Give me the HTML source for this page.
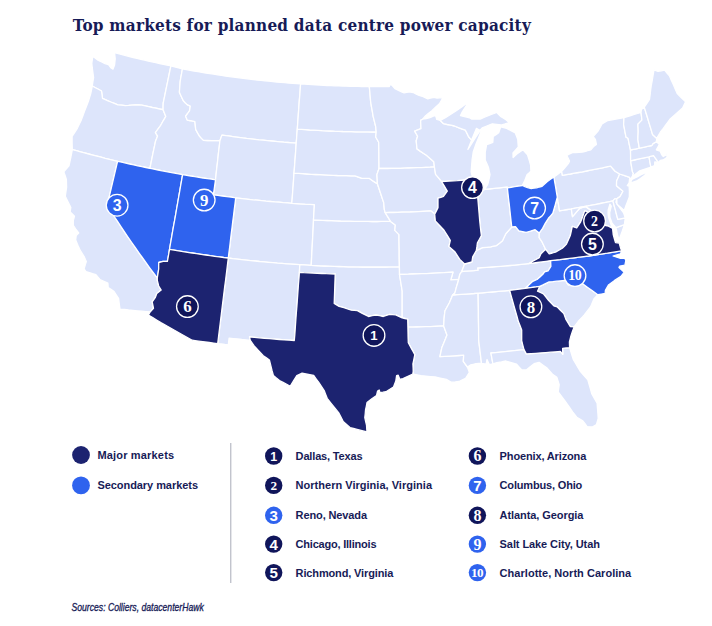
<!DOCTYPE html>
<html lang="en"><head><meta charset="utf-8"><title>Top markets for planned data centre power capacity</title>
<style>
html,body{margin:0;padding:0;background:#fff}
body{width:712px;height:626px;overflow:hidden;position:relative}
svg{position:absolute;left:0;top:0;display:block}
.title{font-family:"DejaVu Serif Condensed","Liberation Serif",serif;font-weight:700;font-size:17px;fill:#171b57}
.map path{stroke:#fff;stroke-width:1.3;stroke-linejoin:round}
.lt{font-family:"Liberation Sans","DejaVu Sans",sans-serif;font-weight:700;font-size:11px;fill:#171b57}
.src{font-family:"Liberation Sans","DejaVu Sans",sans-serif;font-style:italic;font-size:10.3px;fill:#171b57;stroke:#171b57;stroke-width:.3px}
</style></head><body>
<svg width="712" height="626" viewBox="0 0 712 626">
<text x="72.8" y="31.3" class="title" textLength="458" lengthAdjust="spacing">Top markets for planned data centre power capacity</text>
<g class="map">
<path d="M114.6,52.7L118.3,53.7L122.1,54.6L125.8,55.6L129.5,56.5L133.3,57.5L137.0,58.4L140.8,59.3L144.5,60.1L148.3,61.0L152.1,61.9L155.8,62.7L159.6,63.5L163.4,64.3L167.1,65.1L170.9,65.9L169.8,71.2L168.7,76.5L167.6,81.8L166.5,87.2L165.4,92.5L164.3,97.8L163.2,103.2L163.1,106.5L163.1,109.7L159.5,109.0L156.0,108.2L152.4,107.5L148.8,106.7L145.3,105.9L141.7,105.1L138.5,105.0L135.3,104.9L132.0,105.1L128.6,105.4L125.3,105.6L121.6,105.2L117.9,104.9L114.3,103.4L110.8,102.0L108.0,100.8L105.3,99.6L102.5,98.4L102.0,94.7L101.5,91.0L98.4,89.3L95.4,87.7L92.3,86.0L92.7,82.8L93.6,77.6L92.7,71.2L92.2,67.2L91.8,63.3L92.3,59.7L92.9,56.2L95.7,58.4L98.4,60.5L101.7,62.0L105.0,63.6L106.9,64.2L108.8,64.9L110.7,67.7L113.0,69.1L114.6,64.9L115.2,58.9L114.6,52.7Z" fill="#dde5fb"/>
<path d="M92.3,86.0L95.4,87.7L98.4,89.3L101.5,91.0L102.0,94.7L102.5,98.4L105.3,99.6L108.0,100.8L110.8,102.0L114.3,103.4L117.9,104.9L121.6,105.2L125.3,105.6L128.6,105.4L132.0,105.1L135.3,104.9L138.5,105.0L141.7,105.1L145.3,105.9L148.8,106.7L152.4,107.5L156.0,108.2L159.5,109.0L163.1,109.7L165.8,116.4L163.2,120.8L160.7,125.3L158.1,128.9L155.4,132.6L157.6,136.1L155.5,141.3L154.4,146.7L153.2,152.1L152.1,157.6L151.0,163.0L149.9,168.4L145.9,167.5L141.8,166.7L137.8,165.8L133.8,164.9L129.7,164.0L125.7,163.1L121.7,162.2L117.6,161.3L113.5,160.3L109.4,159.3L105.2,158.3L101.1,157.2L97.0,156.2L92.8,155.1L88.7,154.0L84.6,152.9L80.5,151.8L76.4,150.7L72.3,149.6L72.2,146.0L72.1,142.4L72.1,136.3L74.6,132.6L77.0,129.0L79.0,124.8L81.0,120.7L82.9,115.8L84.7,110.8L86.6,105.9L88.5,101.0L89.6,97.4L90.7,93.9L91.5,89.9L92.3,86.0Z" fill="#dde5fb"/>
<path d="M72.3,149.6L76.4,150.7L80.5,151.8L84.6,152.9L88.7,154.0L92.8,155.1L97.0,156.2L101.1,157.2L105.2,158.3L109.4,159.3L113.5,160.3L117.6,161.3L116.3,166.8L115.0,172.3L113.7,177.8L112.4,183.4L111.1,188.9L109.8,194.4L108.5,200.0L107.2,205.5L110.6,210.8L113.9,216.0L117.4,221.2L120.8,226.4L124.3,231.6L127.8,236.8L131.4,242.0L135.0,247.2L138.6,252.4L142.3,257.5L146.0,262.7L149.7,267.8L153.5,272.9L157.3,278.0L157.3,280.4L158.7,286.0L161.2,290.0L156.8,293.4L155.2,297.7L152.2,301.8L153.5,308.3L150.1,312.0L145.8,311.6L141.5,311.2L137.2,310.8L132.9,310.4L128.6,310.0L124.3,309.5L120.0,309.1L119.3,304.0L118.6,298.4L116.2,294.8L113.8,291.2L111.0,289.4L108.2,287.6L107.9,283.2L103.9,281.4L99.9,279.5L95.9,274.7L92.6,273.7L89.3,272.6L86.0,271.6L84.1,268.8L85.2,265.1L86.3,261.5L84.0,256.3L80.4,250.7L78.0,245.4L75.7,240.0L76.2,235.5L78.7,233.0L76.4,230.0L73.3,225.3L73.3,220.6L74.5,216.2L72.3,214.0L70.2,211.9L70.8,207.3L68.0,201.9L65.3,196.4L65.9,191.8L66.6,187.3L66.5,183.3L66.4,179.4L65.1,175.5L63.8,171.7L66.4,168.8L69.0,165.9L69.9,161.5L70.9,157.0L71.6,153.3L72.3,149.6Z" fill="#dde5fb"/>
<path d="M170.9,65.9L174.7,66.9L178.6,67.9L182.4,68.9L181.7,73.0L180.9,77.2L180.2,81.3L179.8,86.7L179.4,92.2L181.3,96.4L183.3,100.7L185.2,102.7L187.2,104.6L190.3,106.1L189.5,110.8L187.6,113.5L185.6,116.2L187.2,120.1L189.5,120.5L191.8,120.8L194.9,121.6L195.3,125.5L195.7,129.4L197.6,132.9L199.6,136.3L201.5,138.4L203.5,140.4L207.6,140.5L211.7,140.6L215.8,140.6L219.9,140.7L219.3,146.3L218.6,151.8L218.0,157.4L217.4,163.0L216.7,168.6L216.1,174.2L215.5,179.8L211.4,179.2L207.3,178.6L203.1,178.0L199.0,177.3L194.9,176.6L190.8,176.0L186.7,175.3L182.6,174.6L178.5,173.9L174.4,173.1L170.3,172.4L166.2,171.6L162.2,170.8L158.1,170.0L154.0,169.2L149.9,168.4L151.0,163.0L152.1,157.6L153.2,152.1L154.4,146.7L155.5,141.3L157.6,136.1L155.4,132.6L158.1,128.9L160.7,125.3L163.2,120.8L165.8,116.4L163.1,109.7L163.1,106.5L163.2,103.2L164.3,97.8L165.4,92.5L166.5,87.2L167.6,81.8L168.7,76.5L169.8,71.2L170.9,65.9Z" fill="#dde5fb"/>
<path d="M182.4,68.9L186.3,69.6L190.2,70.3L194.1,71.0L198.0,71.7L202.0,72.4L205.9,73.0L209.8,73.6L213.7,74.2L217.7,74.8L221.6,75.4L225.5,76.0L229.5,76.6L233.4,77.1L237.3,77.6L241.3,78.1L245.2,78.6L249.2,79.1L253.1,79.5L257.1,80.0L261.0,80.4L265.0,80.8L268.9,81.2L272.9,81.6L276.8,82.0L280.8,82.3L284.7,82.7L288.7,83.0L292.7,83.3L296.6,83.6L300.6,83.9L300.2,89.5L299.8,95.1L299.3,100.8L298.9,106.4L298.5,112.1L298.1,117.8L297.7,123.4L297.3,129.1L296.9,133.8L296.6,138.5L296.2,143.1L292.1,142.8L288.0,142.5L283.8,142.2L279.7,141.8L275.5,141.4L271.4,141.0L267.3,140.6L263.1,140.2L259.0,139.8L254.9,139.3L250.7,138.8L246.6,138.4L242.5,137.9L238.4,137.3L234.3,136.8L230.1,136.2L226.0,135.7L221.9,135.1L219.9,140.7L215.8,140.6L211.7,140.6L207.6,140.5L203.5,140.4L201.5,138.4L199.6,136.3L197.6,132.9L195.7,129.4L195.3,125.5L194.9,121.6L191.8,120.8L189.5,120.5L187.2,120.1L185.6,116.2L187.6,113.5L189.5,110.8L190.3,106.1L187.2,104.6L185.2,102.7L183.3,100.7L181.3,96.4L179.4,92.2L179.8,86.7L180.2,81.3L180.9,77.2L181.7,73.0L182.4,68.9Z" fill="#dde5fb"/>
<path d="M219.9,140.7L221.9,135.1L226.0,135.7L230.1,136.2L234.3,136.8L238.4,137.3L242.5,137.9L246.6,138.4L250.7,138.8L254.9,139.3L259.0,139.8L263.1,140.2L267.3,140.6L271.4,141.0L275.5,141.4L279.7,141.8L283.8,142.2L288.0,142.5L292.1,142.8L296.2,143.1L295.8,149.1L295.4,155.1L294.9,161.1L294.5,167.1L294.0,173.1L293.6,179.1L293.2,185.2L292.7,191.2L292.3,197.2L291.8,203.3L287.5,202.9L283.2,202.6L278.9,202.2L274.5,201.9L270.2,201.5L265.9,201.1L261.6,200.6L257.3,200.2L252.9,199.8L248.6,199.3L244.3,198.8L240.0,198.3L235.7,197.8L231.2,197.2L226.8,196.6L222.3,196.0L217.8,195.4L213.3,194.8L214.1,189.8L214.8,184.8L215.5,179.8L216.1,174.2L216.7,168.6L217.4,163.0L218.0,157.4L218.6,151.8L219.3,146.3L219.9,140.7Z" fill="#dde5fb"/>
<path d="M291.8,203.3L287.5,202.9L283.2,202.6L278.9,202.2L274.5,201.9L270.2,201.5L265.9,201.1L261.6,200.6L257.3,200.2L252.9,199.8L248.6,199.3L244.3,198.8L240.0,198.3L235.7,197.8L235.0,203.8L234.2,209.8L233.5,215.8L232.7,221.8L232.0,227.9L231.2,233.9L230.5,239.9L229.8,246.0L229.0,252.0L228.3,258.0L232.7,258.6L237.2,259.1L241.7,259.6L246.1,260.1L250.6,260.6L255.1,261.0L259.5,261.5L264.0,261.9L268.5,262.3L273.0,262.7L277.4,263.1L281.9,263.4L286.4,263.8L290.9,264.1L295.4,264.4L299.8,264.7L303.6,264.9L307.4,265.1L311.2,265.4L311.5,259.7L311.8,254.0L312.1,248.3L312.4,242.6L312.7,236.9L313.0,231.2L313.3,225.5L313.5,219.8L313.8,214.8L314.1,209.7L314.4,204.7L309.8,204.4L305.3,204.2L300.8,203.9L296.3,203.6L291.8,203.3Z" fill="#dde5fb"/>
<path d="M228.3,258.0L232.7,258.6L237.2,259.1L241.7,259.6L246.1,260.1L250.6,260.6L255.1,261.0L259.5,261.5L264.0,261.9L268.5,262.3L273.0,262.7L277.4,263.1L281.9,263.4L286.4,263.8L290.9,264.1L295.4,264.4L299.8,264.7L299.6,268.5L299.4,272.3L299.0,278.0L298.5,283.7L298.1,289.4L297.7,295.1L297.3,300.7L296.9,306.4L296.4,312.1L296.0,317.8L295.6,323.5L295.2,329.2L294.8,334.9L294.3,340.5L289.3,340.2L284.4,339.9L279.4,339.5L274.4,339.1L269.4,338.7L264.4,338.3L259.4,337.8L254.5,337.4L249.5,336.9L250.3,340.3L246.1,339.9L241.8,339.5L237.6,339.0L233.4,338.6L229.1,338.1L228.7,341.5L228.3,344.9L224.8,344.5L221.3,344.0L217.7,343.6L218.4,337.9L219.1,332.2L219.8,326.5L220.5,320.8L221.2,315.1L221.9,309.4L222.6,303.7L223.3,298.0L224.0,292.3L224.7,286.6L225.5,280.9L226.2,275.2L226.9,269.5L227.6,263.7L228.3,258.0Z" fill="#dde5fb"/>
<path d="M299.8,264.7L303.6,264.9L307.4,265.1L311.2,265.4L315.9,265.6L320.5,265.8L325.1,266.0L329.8,266.2L334.4,266.4L339.1,266.5L343.7,266.6L348.3,266.8L353.0,266.8L357.6,266.9L362.3,267.0L366.9,267.0L371.5,267.0L376.2,267.0L380.8,267.0L385.5,267.0L390.1,266.9L394.7,266.9L399.4,266.8L399.5,270.6L399.5,274.4L400.4,280.0L401.3,285.5L402.2,291.1L402.2,296.4L402.2,301.8L402.2,307.2L402.2,312.5L402.2,317.9L398.9,316.3L395.7,314.8L392.6,314.6L389.5,314.4L386.4,315.4L383.3,316.5L379.6,315.7L375.9,315.0L372.2,315.7L368.5,316.5L365.4,314.9L362.3,313.4L357.4,310.6L354.3,310.4L351.3,310.2L347.6,309.0L343.9,307.7L339.1,306.4L336.6,304.9L334.2,303.5L334.4,297.6L334.6,291.7L334.8,285.8L335.0,279.9L335.2,274.0L330.7,273.8L326.2,273.7L321.8,273.5L317.3,273.3L312.8,273.1L308.3,272.8L303.8,272.6L299.4,272.3L299.6,268.5L299.8,264.7Z" fill="#dde5fb"/>
<path d="M313.5,219.8L318.1,220.1L322.6,220.3L327.1,220.5L331.7,220.7L336.2,220.8L340.7,221.0L345.2,221.1L349.8,221.2L354.3,221.3L358.8,221.4L363.4,221.4L367.9,221.4L372.4,221.5L377.0,221.5L381.5,221.4L386.0,221.4L390.6,221.4L392.9,223.2L395.3,225.1L394.8,230.4L399.0,234.6L399.0,239.9L399.1,245.3L399.2,250.7L399.2,256.0L399.3,261.4L399.4,266.8L394.7,266.9L390.1,266.9L385.5,267.0L380.8,267.0L376.2,267.0L371.5,267.0L366.9,267.0L362.3,267.0L357.6,266.9L353.0,266.8L348.3,266.8L343.7,266.6L339.1,266.5L334.4,266.4L329.8,266.2L325.1,266.0L320.5,265.8L315.9,265.6L311.2,265.4L311.5,259.7L311.8,254.0L312.1,248.3L312.4,242.6L312.7,236.9L313.0,231.2L313.3,225.5L313.5,219.8Z" fill="#dde5fb"/>
<path d="M294.0,173.1L298.4,173.4L302.7,173.7L307.1,174.0L311.4,174.3L315.8,174.5L320.1,174.7L324.5,174.9L328.8,175.1L333.2,175.3L337.5,175.5L341.9,175.6L346.2,175.7L350.6,175.8L354.9,175.9L358.5,177.1L362.0,178.3L365.6,178.3L369.2,178.3L371.9,180.2L374.7,182.1L377.4,183.8L379.4,189.7L381.4,195.7L382.5,199.1L383.7,202.5L384.0,205.9L384.3,209.3L385.2,212.6L387.8,216.8L390.6,221.4L386.0,221.4L381.5,221.4L377.0,221.5L372.4,221.5L367.9,221.4L363.4,221.4L358.8,221.4L354.3,221.3L349.8,221.2L345.2,221.1L340.7,221.0L336.2,220.8L331.7,220.7L327.1,220.5L322.6,220.3L318.1,220.1L313.5,219.8L313.8,214.8L314.1,209.7L314.4,204.7L309.8,204.4L305.3,204.2L300.8,203.9L296.3,203.6L291.8,203.3L292.3,197.2L292.7,191.2L293.2,185.2L293.6,179.1L294.0,173.1Z" fill="#dde5fb"/>
<path d="M297.3,129.1L301.4,129.4L305.6,129.7L309.7,130.0L313.9,130.2L318.0,130.4L322.2,130.7L326.3,130.9L330.5,131.0L334.6,131.2L338.8,131.3L342.9,131.5L347.1,131.6L351.2,131.7L355.4,131.8L359.5,131.9L363.7,131.9L367.8,131.9L372.0,132.0L376.2,132.0L375.7,137.0L378.7,142.3L378.8,147.5L378.9,152.8L378.9,158.0L379.0,163.3L379.0,168.5L376.9,174.6L377.2,179.2L377.4,183.8L374.7,182.1L371.9,180.2L369.2,178.3L365.6,178.3L362.0,178.3L358.5,177.1L354.9,175.9L350.6,175.8L346.2,175.7L341.9,175.6L337.5,175.5L333.2,175.3L328.8,175.1L324.5,174.9L320.1,174.7L315.8,174.5L311.4,174.3L307.1,174.0L302.7,173.7L298.4,173.4L294.0,173.1L294.5,167.1L294.9,161.1L295.4,155.1L295.8,149.1L296.2,143.1L296.6,138.5L296.9,133.8L297.3,129.1Z" fill="#dde5fb"/>
<path d="M300.6,83.9L304.4,84.1L308.2,84.4L312.0,84.6L315.8,84.9L319.7,85.1L323.5,85.3L327.3,85.5L331.1,85.6L334.9,85.8L338.8,85.9L342.6,86.1L346.4,86.2L350.2,86.3L354.0,86.4L357.9,86.4L361.7,86.5L365.5,86.5L369.3,86.6L369.8,91.5L370.2,96.4L370.6,101.3L371.4,106.3L372.3,111.2L373.1,116.2L374.4,121.4L375.7,126.6L376.2,132.0L372.0,132.0L367.8,131.9L363.7,131.9L359.5,131.9L355.4,131.8L351.2,131.7L347.1,131.6L342.9,131.5L338.8,131.3L334.6,131.2L330.5,131.0L326.3,130.9L322.2,130.7L318.0,130.4L313.9,130.2L309.7,130.0L305.6,129.7L301.4,129.4L297.3,129.1L297.7,123.4L298.1,117.8L298.5,112.1L298.9,106.4L299.3,100.8L299.8,95.1L300.2,89.5L300.6,83.9Z" fill="#dde5fb"/>
<path d="M369.3,86.6L373.3,86.6L377.3,86.6L381.3,86.6L385.3,86.5L389.3,86.5L389.8,84.7L391.8,85.0L394.9,88.6L397.0,89.7L399.0,90.7L401.6,91.8L404.1,92.8L406.7,92.4L409.2,91.9L413.3,92.5L415.9,93.9L418.5,95.2L420.6,95.9L422.6,96.5L425.2,97.7L427.8,98.8L430.4,98.1L432.9,97.5L435.0,97.7L437.0,98.0L439.6,97.8L442.1,97.7L443.2,97.4L441.3,100.6L439.4,103.8L435.5,107.3L431.6,110.9L428.6,113.3L425.6,115.7L422.6,119.2L420.6,120.4L420.8,124.5L421.0,128.6L417.8,129.8L414.7,131.1L417.6,136.2L416.2,140.7L416.6,144.8L417.0,148.9L420.1,151.1L423.3,153.2L426.4,155.3L430.1,158.5L433.8,161.7L434.4,166.9L430.2,167.2L425.9,167.4L421.6,167.6L417.4,167.7L413.1,167.9L408.9,168.0L404.6,168.1L400.4,168.3L396.1,168.3L391.8,168.4L387.6,168.5L383.3,168.5L379.0,168.5L379.0,163.3L378.9,158.0L378.9,152.8L378.8,147.5L378.7,142.3L375.7,137.0L376.2,132.0L375.7,126.6L374.4,121.4L373.1,116.2L372.3,111.2L371.4,106.3L370.6,101.3L370.2,96.4L369.8,91.5L369.3,86.6Z" fill="#dde5fb"/>
<path d="M379.0,168.5L383.3,168.5L387.6,168.5L391.8,168.4L396.1,168.3L400.4,168.3L404.6,168.1L408.9,168.0L413.1,167.9L417.4,167.7L421.6,167.6L425.9,167.4L430.2,167.2L434.4,166.9L435.0,170.7L435.6,174.4L438.6,177.9L441.6,181.5L444.5,186.3L447.3,191.1L443.5,196.3L440.8,197.3L438.0,198.2L438.0,202.9L438.0,207.6L436.4,210.9L434.7,214.1L431.0,211.0L426.9,211.2L422.7,211.4L418.5,211.6L414.4,211.8L410.2,212.0L406.1,212.1L401.9,212.2L397.7,212.4L393.6,212.5L389.4,212.5L385.2,212.6L384.3,209.3L384.0,205.9L383.7,202.5L382.5,199.1L381.4,195.7L379.4,189.7L377.4,183.8L377.2,179.2L376.9,174.6L379.0,168.5Z" fill="#dde5fb"/>
<path d="M385.2,212.6L389.4,212.5L393.6,212.5L397.7,212.4L401.9,212.2L406.1,212.1L410.2,212.0L414.4,211.8L418.5,211.6L422.7,211.4L426.9,211.2L431.0,211.0L434.7,214.1L435.0,217.5L435.3,220.9L439.6,225.5L443.9,230.0L447.1,235.2L450.3,240.3L448.9,246.5L451.7,248.9L454.6,251.4L457.2,255.4L459.8,259.4L464.6,264.0L462.9,268.4L461.7,271.5L459.7,274.7L458.8,279.3L454.8,279.6L450.8,279.9L451.9,276.0L453.0,272.1L448.5,272.4L444.1,272.7L439.6,272.9L435.2,273.1L430.7,273.4L426.3,273.6L421.8,273.7L417.4,273.9L412.9,274.0L408.5,274.2L404.0,274.3L399.5,274.4L399.5,270.6L399.4,266.8L399.3,261.4L399.2,256.0L399.2,250.7L399.1,245.3L399.0,239.9L399.0,234.6L394.8,230.4L395.3,225.1L392.9,223.2L390.6,221.4L387.8,216.8L385.2,212.6Z" fill="#dde5fb"/>
<path d="M399.5,274.4L404.0,274.3L408.5,274.2L412.9,274.0L417.4,273.9L421.8,273.7L426.3,273.6L430.7,273.4L435.2,273.1L439.6,272.9L444.1,272.7L448.5,272.4L453.0,272.1L451.9,276.0L450.8,279.9L454.8,279.6L458.8,279.3L457.6,283.2L456.4,287.1L454.9,292.9L452.6,295.0L451.0,298.9L449.4,302.8L447.2,306.8L445.0,310.7L444.5,314.5L444.1,318.4L443.9,322.2L443.7,326.0L439.2,326.2L434.7,326.4L430.3,326.6L425.8,326.7L421.3,326.8L416.8,327.0L412.4,327.1L407.9,327.2L407.8,323.1L407.7,319.1L404.9,318.5L402.2,317.9L402.2,312.5L402.2,307.2L402.2,301.8L402.2,296.4L402.2,291.1L401.3,285.5L400.4,280.0L399.5,274.4Z" fill="#dde5fb"/>
<path d="M407.9,327.2L412.4,327.1L416.8,327.0L421.3,326.8L425.8,326.7L430.3,326.6L434.7,326.4L439.2,326.2L443.7,326.0L445.3,330.5L447.0,335.0L444.5,341.2L441.9,347.4L440.9,352.0L439.9,356.6L444.6,356.4L449.4,356.1L454.2,355.8L459.0,355.5L463.7,355.2L463.3,361.3L467.4,367.0L469.4,372.4L465.6,378.3L462.4,379.9L459.1,381.5L455.2,381.9L451.3,382.2L446.4,379.4L442.7,378.6L438.9,377.8L435.2,377.0L430.5,376.6L425.7,376.1L421.0,375.6L416.9,374.8L412.8,374.0L413.2,371.3L413.1,367.6L412.9,363.8L413.9,359.2L414.8,354.6L413.2,351.6L411.5,348.6L408.3,342.8L408.1,337.6L408.0,332.4L407.9,327.2Z" fill="#dde5fb"/>
<path d="M452.6,295.0L456.9,294.7L461.1,294.4L465.4,294.1L469.6,293.8L473.9,293.5L478.1,293.1L478.2,299.0L478.3,304.9L478.4,310.8L478.4,316.7L478.5,322.7L478.6,328.6L478.6,334.5L478.7,340.4L479.4,346.1L480.1,351.9L480.8,357.7L481.5,363.4L478.7,363.5L476.0,363.6L473.3,364.3L470.5,365.0L467.4,367.0L463.3,361.3L463.7,355.2L459.0,355.5L454.2,355.8L449.4,356.1L444.6,356.4L439.9,356.6L440.9,352.0L441.9,347.4L444.5,341.2L447.0,335.0L445.3,330.5L443.7,326.0L443.9,322.2L444.1,318.4L444.5,314.5L445.0,310.7L447.2,306.8L449.4,302.8L451.0,298.9L452.6,295.0Z" fill="#dde5fb"/>
<path d="M478.1,293.1L482.6,292.8L487.2,292.4L491.7,292.0L496.2,291.6L500.7,291.2L505.2,290.8L509.7,290.3L511.1,295.6L512.6,300.8L514.0,306.0L515.5,311.2L517.0,316.4L518.4,321.6L520.1,325.8L521.7,330.0L521.7,335.3L521.7,340.7L522.8,345.1L524.0,349.6L519.2,350.1L514.5,350.7L509.8,351.2L505.1,351.7L500.4,352.1L495.6,352.6L490.9,353.0L491.9,358.4L492.9,363.8L489.3,364.6L487.0,359.5L486.1,364.1L481.5,363.4L480.8,357.7L480.1,351.9L479.4,346.1L478.7,340.4L478.6,334.5L478.6,328.6L478.5,322.7L478.4,316.7L478.4,310.8L478.3,304.9L478.2,299.0L478.1,293.1Z" fill="#dde5fb"/>
<path d="M528.3,263.7L523.7,264.2L519.1,264.6L514.5,265.1L509.9,265.5L505.3,265.9L500.6,266.3L496.0,266.7L491.4,267.0L486.8,267.4L482.2,267.7L477.6,268.0L478.0,270.2L473.9,270.6L469.8,270.9L465.7,271.2L461.7,271.5L459.7,274.7L458.8,279.3L457.6,283.2L456.4,287.1L454.9,292.9L452.6,295.0L456.9,294.7L461.1,294.4L465.4,294.1L469.6,293.8L473.9,293.5L478.1,293.1L482.6,292.8L487.2,292.4L491.7,292.0L496.2,291.6L500.7,291.2L505.2,290.8L509.7,290.3L513.6,289.9L517.4,289.4L521.3,288.9L525.2,288.4L528.5,285.4L532.8,281.3L537.0,279.5L540.0,276.9L542.9,274.3L544.6,271.9L548.1,270.8L550.9,266.3L550.6,260.6L546.1,261.3L541.7,261.9L537.2,262.5L532.8,263.1L528.3,263.7Z" fill="#dde5fb"/>
<path d="M464.6,264.0L468.3,263.0L471.9,262.0L472.7,256.9L476.3,250.5L479.4,249.1L482.5,247.7L486.6,247.3L490.7,246.9L493.6,246.2L496.5,245.6L499.5,243.2L502.5,240.8L504.1,237.3L505.8,233.8L508.8,230.4L511.8,227.0L515.5,226.6L518.9,230.8L522.5,231.6L526.1,232.4L529.1,231.5L532.1,230.6L535.1,229.7L539.3,232.9L539.2,237.7L542.2,242.2L543.9,245.8L545.6,249.4L543.3,251.6L541.0,253.8L539.2,257.7L535.6,259.7L531.9,261.7L528.3,263.7L523.7,264.2L519.1,264.6L514.5,265.1L509.9,265.5L505.3,265.9L500.6,266.3L496.0,266.7L491.4,267.0L486.8,267.4L482.2,267.7L477.6,268.0L478.0,270.2L473.9,270.6L469.8,270.9L465.7,271.2L461.7,271.5L462.9,268.4L464.6,264.0Z" fill="#dde5fb"/>
<path d="M422.6,119.2L426.3,118.5L429.9,117.7L432.7,116.4L435.5,115.2L436.8,119.5L440.3,120.5L443.6,123.7L447.2,124.5L450.9,125.2L454.5,126.0L457.8,127.4L461.6,128.8L465.4,130.2L467.0,133.4L468.6,136.7L471.6,140.1L469.8,144.8L467.9,149.5L470.2,145.9L472.4,142.3L476.1,136.7L479.8,131.1L483.5,125.5L481.1,131.5L478.7,137.5L476.2,143.5L474.7,147.8L473.2,152.0L472.7,155.9L472.1,159.7L471.6,165.8L471.2,171.9L472.1,175.7L473.0,179.4L469.0,179.7L465.1,180.0L461.2,180.3L457.3,180.6L453.4,180.8L449.5,181.0L445.5,181.3L441.6,181.5L438.6,177.9L435.6,174.4L435.0,170.7L434.4,166.9L433.8,161.7L430.1,158.5L426.4,155.3L423.3,153.2L420.1,151.1L417.0,148.9L416.6,144.8L416.2,140.7L417.6,136.2L414.7,131.1L417.8,129.8L421.0,128.6L420.8,124.5L420.6,120.4L422.6,119.2Z" fill="#dde5fb"/>
<path d="M477.1,191.0L480.8,191.8L484.8,189.4L488.6,189.0L492.3,188.6L496.1,188.2L499.8,187.8L503.5,187.4L507.3,187.0L507.4,187.9L508.0,193.5L508.6,199.0L509.3,204.6L509.9,210.2L510.5,215.8L511.1,221.4L511.8,227.0L508.8,230.4L505.8,233.8L504.1,237.3L502.5,240.8L499.5,243.2L496.5,245.6L493.6,246.2L490.7,246.9L486.6,247.3L482.5,247.7L479.4,249.1L476.3,250.5L476.9,246.7L477.4,242.8L479.4,239.2L481.4,235.6L480.8,231.0L480.3,226.5L479.7,220.6L479.2,214.7L478.7,208.8L478.2,202.9L477.7,197.0L477.1,191.0Z" fill="#dde5fb"/>
<path d="M484.8,189.4L487.9,183.9L489.0,179.3L490.0,174.6L489.2,170.9L488.4,167.2L486.8,163.6L485.2,160.0L485.2,156.2L485.2,152.4L485.9,148.6L486.6,144.7L489.7,143.6L492.8,142.5L493.0,139.5L493.2,136.5L496.0,134.7L498.7,132.8L500.7,126.9L503.7,127.6L506.7,128.4L511.0,130.7L515.3,133.0L516.6,136.3L517.8,139.5L518.0,143.2L518.3,147.0L515.7,150.0L513.0,153.0L513.1,157.5L515.5,155.3L518.0,153.1L520.5,151.5L523.0,149.8L527.5,154.8L529.1,159.9L530.6,165.0L530.9,171.1L529.0,172.9L527.0,174.7L524.9,180.3L522.3,185.5L518.6,186.1L514.8,186.7L511.1,187.3L507.4,187.9L507.3,187.0L503.5,187.4L499.8,187.8L496.1,188.2L492.3,188.6L488.6,189.0L484.8,189.4Z" fill="#dde5fb"/>
<path d="M440.3,120.5L443.0,119.0L445.8,117.4L448.5,115.8L452.0,113.5L455.5,111.3L458.8,108.9L462.1,106.6L465.4,104.2L468.7,101.8L465.5,106.8L462.3,111.8L460.5,115.6L463.5,116.4L466.6,117.1L469.6,117.8L471.8,119.1L474.6,119.1L477.4,119.1L480.2,119.1L483.9,117.5L487.6,116.0L491.3,114.4L494.1,113.5L496.8,112.5L501.0,116.8L503.6,118.3L506.2,119.9L509.2,122.5L505.1,123.8L501.0,125.0L496.7,124.4L492.3,123.8L489.0,125.2L485.6,126.5L482.2,127.9L479.8,130.4L476.4,128.4L474.0,134.3L471.6,140.1L468.6,136.7L467.0,133.4L465.4,130.2L461.6,128.8L457.8,127.4L454.5,126.0L450.9,125.2L447.2,124.5L443.6,123.7L440.3,120.5Z" fill="#dde5fb"/>
<path d="M492.9,363.8L491.9,358.4L490.9,353.0L495.6,352.6L500.4,352.1L505.1,351.7L509.8,351.2L514.5,350.7L519.2,350.1L524.0,349.6L526.3,353.9L531.2,353.6L536.0,353.3L540.9,352.9L545.8,352.6L550.7,352.2L555.5,351.8L560.4,351.4L562.8,354.3L562.6,348.3L566.1,348.0L569.6,347.7L570.9,351.7L572.1,355.7L573.4,359.7L575.8,363.7L578.1,367.7L580.5,371.6L584.2,375.7L587.8,379.7L589.1,384.3L590.4,388.9L591.7,393.6L594.4,398.5L597.1,403.3L597.5,408.4L597.9,413.4L598.2,418.4L596.5,424.5L592.7,426.9L587.1,426.6L585.0,423.7L582.8,420.9L579.8,419.0L576.8,417.2L572.6,411.8L570.4,408.7L568.3,405.6L565.3,401.4L562.3,397.3L558.2,391.8L558.7,388.3L559.2,384.7L558.1,381.1L556.9,377.4L552.5,374.2L549.8,371.2L547.1,368.1L543.1,365.2L539.1,362.3L534.1,363.7L530.2,366.8L526.3,369.9L521.8,370.0L519.2,367.1L516.6,364.2L511.2,362.6L505.8,361.0L501.4,361.9L496.9,362.7L492.9,363.8Z" fill="#dde5fb"/>
<path d="M597.8,294.7L592.4,290.8L587.0,286.9L581.7,283.0L577.3,283.6L572.8,284.3L568.3,284.9L565.8,281.0L564.3,280.4L560.5,280.8L556.7,281.2L552.9,281.6L549.1,281.9L546.0,283.4L542.9,284.9L539.8,286.3L537.5,291.2L540.4,292.5L543.4,293.8L546.0,297.1L548.7,300.5L553.8,305.9L557.1,306.9L560.4,310.3L563.8,313.6L565.9,319.4L568.1,322.9L570.2,326.5L574.1,326.9L578.3,321.3L581.3,318.1L584.3,314.9L587.4,310.9L590.5,306.9L592.3,302.8L594.1,298.6L597.8,294.7Z" fill="#dde5fb"/>
<path d="M616.0,227.7L616.7,231.1L617.4,234.4L618.9,240.0L621.4,233.6L622.9,229.1L624.4,224.7L620.2,226.2L616.0,227.7Z" fill="#dde5fb"/>
<path d="M539.3,232.9L542.6,228.4L545.2,223.3L548.4,218.3L550.6,215.8L552.8,213.2L554.7,206.8L556.0,201.8L557.3,197.1L558.0,201.7L558.8,206.2L559.5,210.8L563.5,210.2L567.4,209.5L571.3,208.9L571.9,212.8L572.5,216.7L574.7,214.1L576.8,211.6L579.5,208.5L582.7,207.5L585.8,206.6L589.0,208.9L592.3,211.2L591.6,214.3L588.2,212.5L584.8,210.6L582.8,216.2L580.7,221.9L578.7,224.9L576.7,228.0L572.3,226.4L571.3,231.0L570.3,235.5L569.2,238.0L566.5,244.1L564.4,246.2L562.3,248.3L558.9,250.2L555.5,252.1L552.4,253.0L549.2,253.8L545.6,249.4L543.9,245.8L542.2,242.2L539.2,237.7L539.3,232.9Z" fill="#dde5fb"/>
<path d="M553.9,177.0L557.8,174.2L561.7,171.3L562.4,175.4L566.4,174.7L570.4,174.0L574.4,173.2L578.5,172.5L582.5,171.8L586.5,171.0L590.5,170.2L594.5,169.4L598.5,168.6L602.5,167.8L606.5,166.9L610.6,166.1L615.1,171.3L619.7,174.0L618.2,177.5L616.6,181.0L616.5,185.7L619.7,188.5L623.0,191.3L620.0,196.6L616.8,198.8L614.7,198.8L612.9,200.9L608.7,201.8L604.6,202.6L600.4,203.5L596.3,204.3L592.1,205.1L588.0,205.9L583.8,206.6L579.6,207.4L575.5,208.1L571.3,208.9L567.4,209.5L563.5,210.2L559.5,210.8L558.8,206.2L558.0,201.7L557.3,197.1L556.4,192.0L555.6,187.0L554.7,182.0L553.9,177.0Z" fill="#dde5fb"/>
<path d="M612.9,200.9L608.7,201.8L604.6,202.6L600.4,203.5L596.3,204.3L592.1,205.1L588.0,205.9L583.8,206.6L579.6,207.4L575.5,208.1L571.3,208.9L571.9,212.8L572.5,216.7L574.7,214.1L576.8,211.6L579.5,208.5L582.7,207.5L585.8,206.6L589.0,208.9L592.3,211.2L595.1,212.5L599.2,215.3L601.5,217.5L599.7,224.0L603.5,224.8L606.0,225.5L608.5,226.2L612.6,228.4L610.6,223.4L609.6,220.5L608.6,217.6L608.1,213.8L608.2,209.9L609.9,204.2L611.3,206.2L609.7,212.7L609.9,217.3L611.0,220.2L612.1,223.1L616.0,227.7L620.2,226.2L624.4,224.7L624.8,221.3L625.3,218.0L621.6,218.7L617.8,219.4L616.6,214.8L615.4,210.2L614.1,205.5L612.9,200.9Z" fill="#dde5fb"/>
<path d="M616.8,198.8L614.7,198.8L612.9,200.9L614.1,205.5L615.4,210.2L616.6,214.8L617.8,219.4L621.6,218.7L625.3,218.0L623.6,212.9L621.1,209.6L618.6,206.2L615.9,202.1L616.8,198.8Z" fill="#dde5fb"/>
<path d="M619.7,174.0L624.7,175.7L629.7,177.3L629.4,182.4L627.3,185.6L629.1,186.0L629.4,191.4L629.3,196.9L627.1,202.8L625.6,206.6L624.2,210.4L620.6,207.3L617.0,204.2L616.8,198.8L620.0,196.6L623.0,191.3L619.7,188.5L616.5,185.7L616.6,181.0L618.2,177.5L619.7,174.0Z" fill="#dde5fb"/>
<path d="M561.7,171.3L565.0,167.5L568.3,163.6L569.5,161.1L568.2,158.2L566.8,155.3L569.6,154.0L572.4,152.6L575.8,152.5L579.1,152.3L582.4,152.1L586.6,151.0L590.8,149.8L594.0,146.1L596.4,144.4L595.4,139.3L593.2,136.6L595.6,133.8L598.1,131.0L600.1,127.5L602.0,124.0L604.9,122.3L607.8,120.5L611.9,119.8L615.9,119.1L620.0,118.4L624.0,117.7L623.8,121.1L623.6,124.5L624.4,128.7L625.2,132.9L626.0,137.1L628.0,138.2L629.2,144.1L630.5,150.0L630.6,155.4L630.6,160.8L631.5,166.4L632.5,172.0L633.4,173.4L632.3,176.7L629.8,180.4L629.4,182.4L629.7,177.3L624.7,175.7L619.7,174.0L615.1,171.3L610.6,166.1L606.5,166.9L602.5,167.8L598.5,168.6L594.5,169.4L590.5,170.2L586.5,171.0L582.5,171.8L578.5,172.5L574.4,173.2L570.4,174.0L566.4,174.7L562.4,175.4L561.7,171.3Z" fill="#dde5fb"/>
<path d="M630.4,183.1L633.9,181.8L637.4,180.5L640.4,178.5L643.4,176.4L645.7,174.1L648.1,171.7L643.9,173.5L640.7,175.0L637.6,176.6L634.8,178.0L631.9,179.5L630.4,183.1Z" fill="#dde5fb"/>
<path d="M649.0,156.8L645.3,157.6L641.6,158.4L637.9,159.2L634.3,160.0L630.6,160.8L631.5,166.4L632.5,172.0L633.4,173.4L632.3,176.7L636.0,173.7L639.7,170.8L643.4,169.6L647.2,168.4L650.9,167.2L649.9,162.0L649.0,156.8Z" fill="#dde5fb"/>
<path d="M658.3,162.5L656.6,159.8L653.5,155.7L651.2,156.2L649.0,156.8L649.9,162.0L650.9,167.2L654.6,165.5L654.8,161.9L658.3,162.5Z" fill="#dde5fb"/>
<path d="M630.5,150.0L633.4,149.4L636.4,148.8L639.3,148.2L643.4,147.3L647.6,146.4L651.8,145.5L653.0,143.6L656.3,141.7L659.4,144.3L657.9,147.0L656.3,149.8L660.1,151.1L661.6,154.6L663.3,156.5L665.8,155.1L665.2,152.9L667.0,153.2L667.0,157.4L665.0,158.7L663.0,160.0L660.3,160.5L658.3,162.5L656.6,159.8L653.5,155.7L651.2,156.2L649.0,156.8L645.3,157.6L641.6,158.4L637.9,159.2L634.3,160.0L630.6,160.8L630.6,155.4L630.5,150.0Z" fill="#dde5fb"/>
<path d="M624.0,117.7L627.4,116.7L630.8,115.6L634.2,114.5L637.6,113.5L641.0,112.4L641.5,116.2L641.9,120.1L639.9,122.1L637.9,124.2L638.1,128.0L638.2,131.8L638.0,135.7L637.9,139.7L638.6,143.9L639.3,148.2L636.4,148.8L633.4,149.4L630.5,150.0L629.2,144.1L628.0,138.2L626.0,137.1L625.2,132.9L624.4,128.7L623.6,124.5L623.8,121.1L624.0,117.7Z" fill="#dde5fb"/>
<path d="M641.0,112.4L641.4,109.4L644.3,107.1L645.9,112.5L647.6,118.0L649.2,123.4L650.9,128.9L652.5,134.4L656.8,138.4L656.3,141.7L653.0,143.6L651.8,145.5L647.6,146.4L643.4,147.3L639.3,148.2L638.6,143.9L637.9,139.7L638.0,135.7L638.2,131.8L638.1,128.0L637.9,124.2L639.9,122.1L641.9,120.1L641.5,116.2L641.0,112.4Z" fill="#dde5fb"/>
<path d="M644.3,107.1L646.9,103.3L649.5,99.5L650.1,95.0L650.6,90.5L651.2,86.0L652.2,80.6L653.1,75.2L654.0,69.8L658.0,71.3L661.3,70.8L664.6,70.2L667.0,73.0L669.4,75.8L671.3,80.2L673.3,84.6L675.2,89.1L677.2,93.5L681.4,97.7L685.6,101.8L684.1,104.9L682.6,108.0L679.5,110.8L676.4,113.6L673.3,116.3L670.2,119.0L667.9,122.1L665.6,125.2L663.3,128.3L660.9,131.3L658.8,134.9L656.8,138.4L652.5,134.4L650.9,128.9L649.2,123.4L647.6,118.0L645.9,112.5L644.3,107.1Z" fill="#dde5fb"/>
<path d="M117.6,161.3L121.7,162.2L125.7,163.1L129.7,164.0L133.8,164.9L137.8,165.8L141.8,166.7L145.9,167.5L149.9,168.4L154.0,169.2L158.1,170.0L162.2,170.8L166.2,171.6L170.3,172.4L174.4,173.1L178.5,173.9L182.6,174.6L181.6,180.3L180.6,186.0L179.6,191.8L178.6,197.5L177.6,203.3L176.6,209.0L175.6,214.8L174.6,220.5L173.5,226.3L172.5,232.0L171.5,237.8L170.5,243.5L169.5,249.3L168.5,255.3L167.4,261.3L163.1,261.3L158.8,262.5L158.7,265.8L158.7,269.0L158.0,273.5L157.3,278.0L153.5,272.9L149.7,267.8L146.0,262.7L142.3,257.5L138.6,252.4L135.0,247.2L131.4,242.0L127.8,236.8L124.3,231.6L120.8,226.4L117.4,221.2L113.9,216.0L110.6,210.8L107.2,205.5L108.5,200.0L109.8,194.4L111.1,188.9L112.4,183.4L113.7,177.8L115.0,172.3L116.3,166.8L117.6,161.3Z" fill="#2f63ee"/>
<path d="M182.6,174.6L186.7,175.3L190.8,176.0L194.9,176.6L199.0,177.3L203.1,178.0L207.3,178.6L211.4,179.2L215.5,179.8L214.8,184.8L214.1,189.8L213.3,194.8L217.8,195.4L222.3,196.0L226.8,196.6L231.2,197.2L235.7,197.8L235.0,203.8L234.2,209.8L233.5,215.8L232.7,221.8L232.0,227.9L231.2,233.9L230.5,239.9L229.8,246.0L229.0,252.0L228.3,258.0L223.7,257.5L219.2,256.9L214.7,256.3L210.1,255.7L205.6,255.0L201.1,254.4L196.6,253.7L192.1,253.0L187.5,252.3L183.0,251.6L178.5,250.8L174.0,250.1L169.5,249.3L170.5,243.5L171.5,237.8L172.5,232.0L173.5,226.3L174.6,220.5L175.6,214.8L176.6,209.0L177.6,203.3L178.6,197.5L179.6,191.8L180.6,186.0L181.6,180.3L182.6,174.6Z" fill="#2f63ee"/>
<path d="M507.4,187.9L511.1,187.3L514.8,186.7L518.6,186.1L522.3,185.5L524.9,186.6L527.6,187.6L531.2,188.6L533.9,188.2L536.7,187.8L539.4,187.0L542.1,186.3L544.6,184.0L547.1,181.7L550.5,179.3L553.9,177.0L554.7,182.0L555.6,187.0L556.4,192.0L557.3,197.1L556.0,201.8L554.7,206.8L552.8,213.2L550.6,215.8L548.4,218.3L545.2,223.3L542.6,228.4L539.3,232.9L535.1,229.7L532.1,230.6L529.1,231.5L526.1,232.4L522.5,231.6L518.9,230.8L515.5,226.6L511.8,227.0L511.1,221.4L510.5,215.8L509.9,210.2L509.3,204.6L508.6,199.0L508.0,193.5L507.4,187.9Z" fill="#2f63ee"/>
<path d="M621.5,250.9L616.8,251.7L612.1,252.4L607.4,253.2L602.6,253.9L597.9,254.6L593.2,255.3L588.5,256.0L583.7,256.6L579.0,257.2L574.3,257.8L569.5,258.4L564.8,259.0L560.1,259.6L555.3,260.1L550.6,260.6L550.9,266.3L548.1,270.8L544.6,271.9L542.9,274.3L540.0,276.9L537.0,279.5L532.8,281.3L528.5,285.4L525.2,288.4L528.8,287.9L532.5,287.4L536.1,286.9L539.8,286.3L542.9,284.9L546.0,283.4L549.1,281.9L552.9,281.6L556.7,281.2L560.5,280.8L564.3,280.4L565.8,281.0L568.3,284.9L572.8,284.3L577.3,283.6L581.7,283.0L587.0,286.9L592.4,290.8L597.8,294.7L601.4,294.1L605.1,293.5L605.4,290.3L608.4,285.0L611.5,282.7L614.6,280.4L617.8,278.4L621.0,276.4L624.2,272.2L619.0,267.4L619.6,266.2L622.3,265.7L624.9,265.2L625.8,260.6L624.9,258.4L620.6,258.4L616.8,257.2L613.0,256.0L616.8,254.9L620.6,253.8L621.5,250.9Z" fill="#2f63ee"/>
<path d="M169.5,249.3L174.0,250.1L178.5,250.8L183.0,251.6L187.5,252.3L192.1,253.0L196.6,253.7L201.1,254.4L205.6,255.0L210.1,255.7L214.7,256.3L219.2,256.9L223.7,257.5L228.3,258.0L227.6,263.7L226.9,269.5L226.2,275.2L225.5,280.9L224.7,286.6L224.0,292.3L223.3,298.0L222.6,303.7L221.9,309.4L221.2,315.1L220.5,320.8L219.8,326.5L219.1,332.2L218.4,337.9L217.7,343.6L213.5,343.1L209.2,342.5L205.0,342.0L200.7,341.4L196.5,340.8L192.2,340.2L187.8,337.8L183.3,335.3L178.9,332.8L174.5,330.3L170.1,327.8L165.7,325.3L161.3,322.8L157.0,320.2L152.7,317.6L148.4,315.1L150.1,312.0L153.5,308.3L152.2,301.8L155.2,297.7L156.8,293.4L161.2,290.0L158.7,286.0L157.3,280.4L157.3,278.0L158.0,273.5L158.7,269.0L158.7,265.8L158.8,262.5L163.1,261.3L167.4,261.3L168.5,255.3L169.5,249.3Z" fill="#1c2370"/>
<path d="M299.4,272.3L303.8,272.6L308.3,272.8L312.8,273.1L317.3,273.3L321.8,273.5L326.2,273.7L330.7,273.8L335.2,274.0L335.0,279.9L334.8,285.8L334.6,291.7L334.4,297.6L334.2,303.5L336.6,304.9L339.1,306.4L343.9,307.7L347.6,309.0L351.3,310.2L354.3,310.4L357.4,310.6L362.3,313.4L365.4,314.9L368.5,316.5L372.2,315.7L375.9,315.0L379.6,315.7L383.3,316.5L386.4,315.4L389.5,314.4L392.6,314.6L395.7,314.8L398.9,316.3L402.2,317.9L404.9,318.5L407.7,319.1L407.8,323.1L407.9,327.2L408.0,332.4L408.1,337.6L408.3,342.8L411.5,348.6L413.2,351.6L414.8,354.6L413.9,359.2L412.9,363.8L413.1,367.6L413.2,371.3L412.8,374.0L407.9,376.3L403.0,378.6L399.8,379.3L398.2,375.2L396.6,375.6L395.8,381.0L393.5,387.0L389.8,389.4L386.0,391.7L383.0,392.2L380.0,392.6L379.2,390.0L377.6,391.0L376.5,395.6L371.8,398.8L367.0,402.5L366.3,406.3L365.5,410.0L365.2,413.8L364.8,417.5L365.6,421.3L366.5,425.0L366.7,428.5L367.0,432.0L362.0,430.7L357.0,429.4L353.5,428.5L350.0,427.6L346.6,424.6L343.2,421.6L341.1,417.4L339.0,413.2L335.0,408.2L331.1,403.3L327.2,398.3L325.7,394.5L324.2,390.6L321.4,386.3L318.6,382.1L316.1,378.8L313.7,375.5L309.8,374.7L306.0,374.0L302.1,373.2L299.5,374.4L296.8,375.6L293.5,380.9L290.3,386.2L286.7,384.3L283.1,382.4L279.5,380.6L276.4,378.1L273.4,375.5L272.0,370.4L270.7,365.2L269.4,360.0L266.4,357.9L263.3,355.7L258.6,350.7L254.0,345.7L250.3,340.3L249.5,336.9L254.5,337.4L259.4,337.8L264.4,338.3L269.4,338.7L274.4,339.1L279.4,339.5L284.4,339.9L289.3,340.2L294.3,340.5L294.8,334.9L295.2,329.2L295.6,323.5L296.0,317.8L296.4,312.1L296.9,306.4L297.3,300.7L297.7,295.1L298.1,289.4L298.5,283.7L299.0,278.0L299.4,272.3Z" fill="#1c2370"/>
<path d="M441.6,181.5L445.5,181.3L449.5,181.0L453.4,180.8L457.3,180.6L461.2,180.3L465.1,180.0L469.0,179.7L473.0,179.4L474.4,184.0L475.8,188.6L477.1,191.0L477.7,197.0L478.2,202.9L478.7,208.8L479.2,214.7L479.7,220.6L480.3,226.5L480.8,231.0L481.4,235.6L479.4,239.2L477.4,242.8L476.9,246.7L476.3,250.5L472.7,256.9L471.9,262.0L468.3,263.0L464.6,264.0L459.8,259.4L457.2,255.4L454.6,251.4L451.7,248.9L448.9,246.5L450.3,240.3L447.1,235.2L443.9,230.0L439.6,225.5L435.3,220.9L435.0,217.5L434.7,214.1L436.4,210.9L438.0,207.6L438.0,202.9L438.0,198.2L440.8,197.3L443.5,196.3L447.3,191.1L444.5,186.3L441.6,181.5Z" fill="#1c2370"/>
<path d="M509.7,290.3L513.6,289.9L517.4,289.4L521.3,288.9L525.2,288.4L528.8,287.9L532.5,287.4L536.1,286.9L539.8,286.3L537.5,291.2L540.4,292.5L543.4,293.8L546.0,297.1L548.7,300.5L553.8,305.9L557.1,306.9L560.4,310.3L563.8,313.6L565.9,319.4L568.1,322.9L570.2,326.5L574.1,326.9L572.5,331.2L571.0,335.6L569.4,341.9L569.6,347.7L566.1,348.0L562.6,348.3L562.8,354.3L560.4,351.4L555.5,351.8L550.7,352.2L545.8,352.6L540.9,352.9L536.0,353.3L531.2,353.6L526.3,353.9L524.0,349.6L522.8,345.1L521.7,340.7L521.7,335.3L521.7,330.0L520.1,325.8L518.4,321.6L517.0,316.4L515.5,311.2L514.0,306.0L512.6,300.8L511.1,295.6L509.7,290.3Z" fill="#1c2370"/>
<path d="M545.6,249.4L549.2,253.8L552.4,253.0L555.5,252.1L558.9,250.2L562.3,248.3L564.4,246.2L566.5,244.1L569.2,238.0L570.3,235.5L571.3,231.0L572.3,226.4L576.7,228.0L578.7,224.9L580.7,221.9L582.8,216.2L584.8,210.6L588.2,212.5L591.6,214.3L592.3,211.2L595.1,212.5L599.2,215.3L601.5,217.5L599.7,224.0L603.5,224.8L606.0,225.5L608.5,226.2L612.6,228.4L612.9,231.5L613.2,234.5L614.3,238.5L615.5,242.6L619.2,243.1L620.3,247.0L621.5,250.9L616.8,251.7L612.1,252.4L607.4,253.2L602.6,253.9L597.9,254.6L593.2,255.3L588.5,256.0L583.7,256.6L579.0,257.2L574.3,257.8L569.5,258.4L564.8,259.0L560.1,259.6L555.3,260.1L550.6,260.6L546.1,261.3L541.7,261.9L537.2,262.5L532.8,263.1L528.3,263.7L531.9,261.7L535.6,259.7L539.2,257.7L541.0,253.8L543.3,251.6L545.6,249.4Z" fill="#1c2370"/>
</g>
<g class="badges">
<g><circle cx="374.0" cy="335.4" r="10.85" fill="#10155a" stroke="#fff" stroke-width="1.3"/><text x="374.0" y="340.1" text-anchor="middle" fill="#fff" font-weight="700" font-family='"Liberation Sans",sans-serif' font-size="13.1">1</text></g>
<g><circle cx="594.6" cy="221.0" r="10.85" fill="#10155a" stroke="#fff" stroke-width="1.3"/><text x="594.6" y="225.7" text-anchor="middle" fill="#fff" font-weight="700" font-family='"Liberation Serif",serif' font-size="13.9">2</text></g>
<g><circle cx="117.1" cy="205.2" r="10.85" fill="#2f63ee" stroke="#fff" stroke-width="1.3"/><text x="117.1" y="210.9" text-anchor="middle" fill="#fff" font-weight="700" font-family='"Liberation Sans",sans-serif' font-size="15.9">3</text></g>
<g><circle cx="472.5" cy="187.6" r="10.85" fill="#10155a" stroke="#fff" stroke-width="1.3"/><text x="472.5" y="193.3" text-anchor="middle" fill="#fff" font-weight="700" font-family='"Liberation Sans",sans-serif' font-size="15.9">4</text></g>
<g><circle cx="592.4" cy="244.1" r="10.85" fill="#10155a" stroke="#fff" stroke-width="1.3"/><text x="592.4" y="249.8" text-anchor="middle" fill="#fff" font-weight="700" font-family='"Liberation Sans",sans-serif' font-size="15.9">5</text></g>
<g><circle cx="187.4" cy="306.6" r="10.85" fill="#10155a" stroke="#fff" stroke-width="1.3"/><text x="187.4" y="312.3" text-anchor="middle" fill="#fff" font-weight="700" font-family='"Liberation Serif",serif' font-size="16.9">6</text></g>
<g><circle cx="534.6" cy="208.1" r="10.85" fill="#2f63ee" stroke="#fff" stroke-width="1.3"/><text x="534.6" y="213.8" text-anchor="middle" fill="#fff" font-weight="700" font-family='"Liberation Sans",sans-serif' font-size="15.9">7</text></g>
<g><circle cx="530.9" cy="306.8" r="10.85" fill="#10155a" stroke="#fff" stroke-width="1.3"/><text x="530.9" y="312.5" text-anchor="middle" fill="#fff" font-weight="700" font-family='"Liberation Serif",serif' font-size="16.9">8</text></g>
<g><circle cx="204.2" cy="200.1" r="10.85" fill="#2f63ee" stroke="#fff" stroke-width="1.3"/><text x="204.2" y="205.8" text-anchor="middle" fill="#fff" font-weight="700" font-family='"Liberation Serif",serif' font-size="16.9">9</text></g>
<g><circle cx="575.0" cy="275.6" r="10.85" fill="#2f63ee" stroke="#fff" stroke-width="1.3"/><text x="574.7" y="280.3" text-anchor="middle" fill="#fff" font-weight="700" font-family='"Liberation Serif",serif' font-size="13.9" letter-spacing="-0.6">10</text></g>
</g>
<g class="legend">
<circle cx="81" cy="455" r="8.9" fill="#1c2370"/><text x="97.4" y="459" class="lt" textLength="76.7" lengthAdjust="spacing">Major markets</text>
<circle cx="81" cy="485.4" r="8.9" fill="#2f63ee"/><text x="97.4" y="489.4" class="lt" textLength="100.6" lengthAdjust="spacing">Secondary markets</text>
<rect x="230.3" y="443" width="1" height="140" fill="#a9acb8"/>
<circle cx="273.7" cy="456" r="8.7" fill="#10155a"/><text x="273.7" y="460.5" text-anchor="middle" fill="#fff" font-weight="700" font-family='"Liberation Sans",sans-serif' font-size="12.5">1</text><text x="295.6" y="460" class="lt" textLength="67" lengthAdjust="spacing">Dallas, Texas</text>
<circle cx="273.7" cy="485.4" r="8.7" fill="#10155a"/><text x="273.7" y="489.9" text-anchor="middle" fill="#fff" font-weight="700" font-family='"Liberation Serif",serif' font-size="13.2">2</text><text x="295.6" y="489.4" class="lt" textLength="136.4" lengthAdjust="spacing">Northern Virginia, Virginia</text>
<circle cx="273.7" cy="515.3" r="8.7" fill="#2f63ee"/><text x="273.7" y="520.7" text-anchor="middle" fill="#fff" font-weight="700" font-family='"Liberation Sans",sans-serif' font-size="15.1">3</text><text x="295.6" y="519.3" class="lt" textLength="71.5" lengthAdjust="spacing">Reno, Nevada</text>
<circle cx="273.7" cy="544.1" r="8.7" fill="#10155a"/><text x="273.7" y="549.5" text-anchor="middle" fill="#fff" font-weight="700" font-family='"Liberation Sans",sans-serif' font-size="15.1">4</text><text x="295.6" y="548.1" class="lt" textLength="80.9" lengthAdjust="spacing">Chicago, Illinois</text>
<circle cx="273.7" cy="572.6" r="8.7" fill="#10155a"/><text x="273.7" y="578.0" text-anchor="middle" fill="#fff" font-weight="700" font-family='"Liberation Sans",sans-serif' font-size="15.1">5</text><text x="295.6" y="576.6" class="lt" textLength="97.7" lengthAdjust="spacing">Richmond, Virginia</text>
<circle cx="477.4" cy="456" r="8.7" fill="#10155a"/><text x="477.4" y="461.4" text-anchor="middle" fill="#fff" font-weight="700" font-family='"Liberation Serif",serif' font-size="16.0">6</text><text x="499.6" y="460" class="lt" textLength="86.7" lengthAdjust="spacing">Phoenix, Arizona</text>
<circle cx="477.4" cy="485.4" r="8.7" fill="#2f63ee"/><text x="477.4" y="490.8" text-anchor="middle" fill="#fff" font-weight="700" font-family='"Liberation Sans",sans-serif' font-size="15.1">7</text><text x="499.6" y="489.4" class="lt" textLength="82.7" lengthAdjust="spacing">Columbus, Ohio</text>
<circle cx="477.4" cy="515.3" r="8.7" fill="#10155a"/><text x="477.4" y="520.7" text-anchor="middle" fill="#fff" font-weight="700" font-family='"Liberation Serif",serif' font-size="16.0">8</text><text x="499.6" y="519.3" class="lt" textLength="83.8" lengthAdjust="spacing">Atlanta, Georgia</text>
<circle cx="477.4" cy="544.1" r="8.7" fill="#2f63ee"/><text x="477.4" y="549.5" text-anchor="middle" fill="#fff" font-weight="700" font-family='"Liberation Serif",serif' font-size="16.0">9</text><text x="499.6" y="548.1" class="lt" textLength="100.3" lengthAdjust="spacing">Salt Lake City, Utah</text>
<circle cx="477.4" cy="572.6" r="8.7" fill="#2f63ee"/><text x="477.1" y="577.1" text-anchor="middle" fill="#fff" font-weight="700" font-family='"Liberation Serif",serif' font-size="13.2" letter-spacing="-0.6">10</text><text x="499.6" y="576.6" class="lt" textLength="131.6" lengthAdjust="spacing">Charlotte, North Carolina</text>
</g>
<text x="71.5" y="610.6" class="src" textLength="132.3" lengthAdjust="spacingAndGlyphs">Sources: Colliers, datacenterHawk</text>
</svg>
</body></html>
